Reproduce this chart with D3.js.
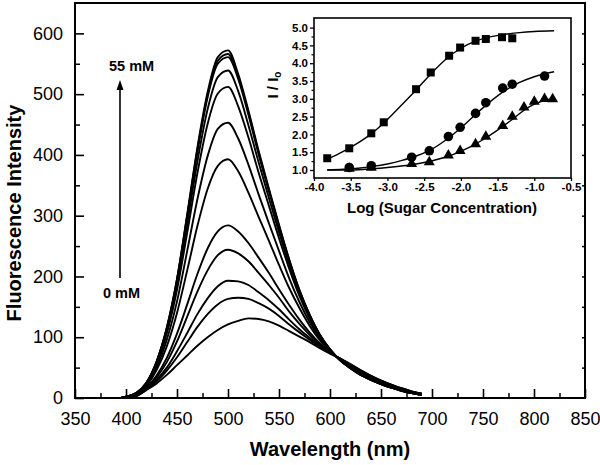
<!DOCTYPE html>
<html><head><meta charset="utf-8">
<script src="https://cdn.jsdelivr.net/npm/d3@7/dist/d3.min.js"></script>
<style>body{margin:0;background:#fff} text{font-family:"Liberation Sans",Arial,sans-serif}</style>
</head><body><svg id="c" width="600" height="465"></svg>
<script>
// ---- Main spectra (Fluorescence Intensity vs wavelength) ----
const wavelengths = [395,400,410,420,430,440,450,460,470,480,490,500,510,520,530,540,550,560,570,580,590,600,610,620,630,640,650,660,670,680,690];
const spec01 = [0,2,8,25,60,116,196,302,412,503,561,572,533,473,407,345,285,228,178,137,104,80,62,49,38,30,23,17,12,8,5];
const spec02 = [0,2,8,25,60,115,195,300,409,499,555,566,529,470,404,343,283,227,177,137,104,80,62,49,38,30,23,17,12,8,5];
const spec03 = [0,2,8,25,59,114,193,297,405,495,550,561,525,466,401,341,282,226,176,136,104,80,62,49,38,30,23,17,12,8,5];
const spec04 = [0,2,8,24,58,111,186,286,389,475,528,539,505,449,388,330,273,220,173,134,102,80,62,50,39,31,23,17,12,8,5];
const spec05 = [0,2,7,23,55,106,178,272,370,451,501,512,480,429,371,317,263,213,168,131,101,79,62,50,39,31,24,18,13,8,5];
const spec06 = [0,1,7,22,51,96,159,242,327,398,443,453,427,384,335,288,242,197,158,125,98,78,63,51,40,32,25,18,13,9,5];
const spec07 = [0,1,6,20,46,85,140,210,283,344,382,393,373,338,298,259,219,181,148,119,95,77,63,52,41,33,25,19,14,9,6];
const spec08 = [0,1,5,17,37,66,106,154,204,246,274,284,274,255,231,206,179,153,129,108,90,76,64,54,43,35,27,20,15,10,6];
const spec09 = [0,1,4,16,34,59,93,134,175,210,235,244,238,225,206,186,165,142,122,104,88,75,64,54,44,35,27,21,15,10,6];
const spec10 = [0,0,4,15,30,50,77,107,138,164,184,193,192,186,174,161,146,129,113,99,86,74,65,55,45,36,28,21,15,10,7];
const spec11 = [0,0,3,14,27,45,67,92,117,138,154,163,165,163,156,147,135,121,108,96,84,74,65,55,45,36,28,22,16,11,7];
const spec12 = [0,0,3,13,24,38,54,70,86,100,112,121,127,131,130,126,119,110,101,92,82,73,65,56,46,37,29,22,16,11,7];
const spectra = [spec01,spec02,spec03,spec04,spec05,spec06,spec07,spec08,spec09,spec10,spec11,spec12];
const xTicks = [350,400,450,500,550,600,650,700,750,800,850];
const yTicks = [0,100,200,300,400,500,600];

// ---- Inset: I/Io vs log(sugar concentration) ----
const squareX = [-3.82,-3.52,-3.22,-3.05,-2.61,-2.41,-2.16,-2.01,-1.80,-1.66,-1.44,-1.30];
const squareY = [1.33,1.61,2.03,2.34,3.27,3.74,4.21,4.44,4.63,4.68,4.73,4.70];
const circleX = [-3.52,-3.22,-2.67,-2.43,-2.17,-2.01,-1.80,-1.66,-1.43,-1.30,-0.86];
const circleY = [1.07,1.12,1.36,1.54,1.94,2.20,2.59,2.89,3.30,3.41,3.64];
const triX = [-3.52,-3.22,-2.67,-2.43,-2.17,-2.01,-1.80,-1.66,-1.43,-1.30,-1.14,-1.00,-0.86,-0.75];
const triY = [1.04,1.07,1.17,1.22,1.41,1.54,1.73,1.94,2.24,2.50,2.76,2.92,3.00,2.99];
const squareFitX = [-3.82,-3.6,-3.4,-3.2,-3.0,-2.8,-2.6,-2.4,-2.2,-2.0,-1.8,-1.6,-1.4,-1.2,-1.0,-0.73];
const squareFitY = [1.30,1.52,1.76,2.05,2.42,2.84,3.27,3.72,4.12,4.42,4.62,4.74,4.81,4.86,4.89,4.91];
const circleFitX = [-3.82,-3.6,-3.4,-3.2,-3.0,-2.8,-2.6,-2.4,-2.2,-2.0,-1.8,-1.6,-1.4,-1.2,-1.0,-0.73];
const circleFitY = [1.00,1.02,1.05,1.10,1.17,1.27,1.40,1.58,1.85,2.18,2.56,2.92,3.23,3.46,3.62,3.76];
const triFitX = [-3.82,-3.52,-3.3,-3.1,-2.9,-2.7,-2.5,-2.3,-2.1,-1.9,-1.7,-1.5,-1.3,-1.1,-0.9,-0.73];
const triFitY = [1.00,1.00,1.02,1.05,1.09,1.14,1.21,1.31,1.44,1.62,1.85,2.12,2.42,2.74,2.93,3.00];
const insetXTicks = [-4.0,-3.5,-3.0,-2.5,-2.0,-1.5,-1.0,-0.5];
const insetYTicks = [1.0,1.5,2.0,2.5,3.0,3.5,4.0,4.5,5.0];

const svg = d3.select("#c");
const FONT = '"Liberation Sans",Arial,sans-serif';

// main scales
const x = d3.scaleLinear().domain([350,850]).range([75,585]);
const y = d3.scaleLinear().domain([0,650]).range([398,3]);

// minor ticks
const gxm = svg.append("g").attr("transform","translate(0,398)")
  .call(d3.axisBottom(x).tickValues(d3.range(375,850,50)).tickSize(-5).tickFormat("").tickSizeOuter(0));
const gym = svg.append("g").attr("transform","translate(75,0)")
  .call(d3.axisLeft(y).tickValues(d3.range(50,650,100)).tickSize(-5).tickFormat("").tickSizeOuter(0));
const gyr = svg.append("g").attr("transform","translate(585,0)")
  .call(d3.axisRight(y).tickValues(d3.range(50,650,50)).tickSize(-3).tickFormat("").tickSizeOuter(0));
[gxm,gym,gyr].forEach(g=>{g.select(".domain").remove(); g.selectAll("line").attr("stroke","#000").attr("stroke-width",1.5);});

const gx = svg.append("g").attr("transform","translate(0,398)")
  .call(d3.axisBottom(x).tickValues(xTicks).tickSize(-9).tickPadding(14).tickSizeOuter(0));
const gy = svg.append("g").attr("transform","translate(75,0)")
  .call(d3.axisLeft(y).tickValues(yTicks).tickSize(-9).tickPadding(12).tickSizeOuter(0));
[gx,gy].forEach(g=>{
  g.select(".domain").remove();
  g.selectAll("line").attr("stroke","#000").attr("stroke-width",1.6);
  g.selectAll("text").attr("font-family",FONT).attr("font-size",18).attr("fill","#000");
});

// frame
svg.append("rect").attr("x",75).attr("y",3).attr("width",510).attr("height",395)
  .attr("fill","none").attr("stroke","#000").attr("stroke-width",2);

// spectra
const line = d3.line().x((d,i)=>x(wavelengths[i])).y(d=>y(d)).curve(d3.curveMonotoneX);
svg.append("g").selectAll("path").data(spectra).join("path")
  .attr("d",line).attr("fill","none").attr("stroke","#000").attr("stroke-width",1.9);

// arrow and labels
svg.append("line").attr("x1",120).attr("x2",120).attr("y1",278).attr("y2",88)
  .attr("stroke","#000").attr("stroke-width",1.6);
svg.append("path").attr("d","M120,80 L116.5,90 L123.5,90 Z").attr("fill","#000");
svg.append("text").attr("x",109).attr("y",71).attr("font-size",14.5).attr("font-weight","bold").text("55 mM");
svg.append("text").attr("x",103).attr("y",298).attr("font-size",14.5).attr("font-weight","bold").text("0 mM");

// axis titles
svg.append("text").attr("transform","translate(21,213) rotate(-90)").attr("text-anchor","middle")
  .attr("font-size",20).attr("font-weight","bold").text("Fluorescence Intensity");
svg.append("text").attr("x",330).attr("y",456).attr("text-anchor","middle")
  .attr("font-size",20).attr("font-weight","bold").text("Wavelength (nm)");

// ---- inset ----
const ix = d3.scaleLinear().domain([-4,-0.5]).range([314,571]);
const iy = d3.scaleLinear().domain([0.775,5.27]).range([178,18]);
svg.append("rect").attr("x",314).attr("y",18).attr("width",257).attr("height",160)
  .attr("fill","#fff").attr("stroke","none");

const iym = svg.append("g").attr("transform","translate(314,0)")
  .call(d3.axisLeft(iy).tickValues(d3.range(1.25,5.2,0.5)).tickSize(2.5).tickFormat("").tickSizeOuter(0));
iym.select(".domain").remove(); iym.selectAll("line").attr("stroke","#000").attr("stroke-width",1.2);

const igx = svg.append("g").attr("transform","translate(0,178)")
  .call(d3.axisBottom(ix).tickValues(insetXTicks).tickSize(3).tickPadding(2).tickFormat(d3.format(".1f")).tickSizeOuter(0));
const igy = svg.append("g").attr("transform","translate(314,0)")
  .call(d3.axisLeft(iy).tickValues(insetYTicks).tickSize(4).tickPadding(2).tickFormat(d3.format(".1f")).tickSizeOuter(0));
[igx,igy].forEach(g=>{
  g.select(".domain").remove();
  g.selectAll("line").attr("stroke","#000").attr("stroke-width",1.3);
  g.selectAll("text").attr("font-family",FONT).attr("font-size",11.5).attr("font-weight","bold").attr("fill","#000");
});
igx.selectAll("text").text(d=>d3.format(".1f")(d).replace("\u2212","-"));

svg.append("rect").attr("x",314).attr("y",18).attr("width",257).attr("height",160)
  .attr("fill","none").attr("stroke","#000").attr("stroke-width",1.6);

const fitLine = (xs)=>d3.line().x((d,i)=>ix(xs[i])).y(d=>iy(d)).curve(d3.curveMonotoneX);
[[squareFitX,squareFitY],[circleFitX,circleFitY],[triFitX,triFitY]].forEach(([xs,ys])=>{
  svg.append("path").attr("d",fitLine(xs)(ys)).attr("fill","none").attr("stroke","#000").attr("stroke-width",1.4);
});

const sym = (type,size)=>d3.symbol().type(type).size(size)();
svg.append("g").selectAll("path").data(squareY).join("path")
  .attr("transform",(d,i)=>`translate(${ix(squareX[i])},${iy(d)})`).attr("d",sym(d3.symbolSquare,64)).attr("fill","#000");
svg.append("g").selectAll("path").data(circleY).join("path")
  .attr("transform",(d,i)=>`translate(${ix(circleX[i])},${iy(d)})`).attr("d",sym(d3.symbolCircle,72)).attr("fill","#000");
svg.append("g").selectAll("path").data(triY).join("path")
  .attr("transform",(d,i)=>`translate(${ix(triX[i])},${iy(d)})`).attr("d",sym(d3.symbolTriangle,52)).attr("fill","#000");

// inset titles
const yl = svg.append("text").attr("transform","translate(278,85) rotate(-90)").attr("text-anchor","middle")
  .attr("font-size",15).attr("font-weight","bold");
yl.append("tspan").text("I / I");
yl.append("tspan").attr("font-size",10).attr("dy",3).text("o");
svg.append("text").attr("x",442).attr("y",213).attr("text-anchor","middle")
  .attr("font-size",15).attr("font-weight","bold").text("Log (Sugar Concentration)");
</script></body></html>
